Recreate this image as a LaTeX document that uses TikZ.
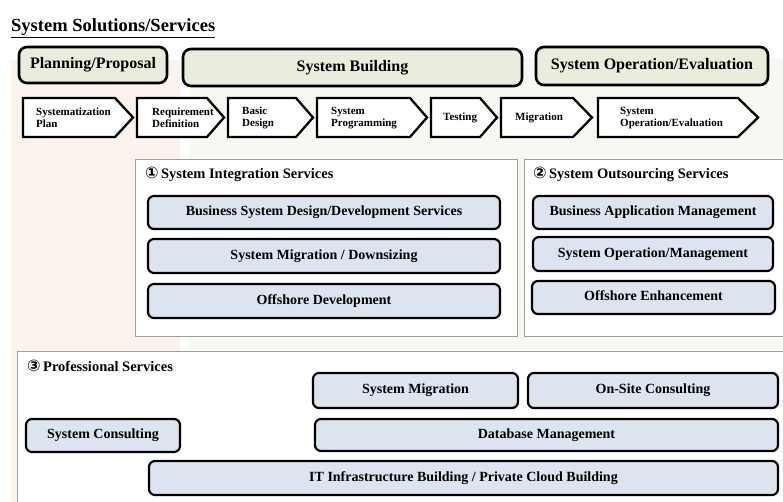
\documentclass[tikz,border=0pt]{standalone}
\usepackage{fontspec}
\setmainfont{Liberation Serif}
\newfontfamily\symfont{DejaVu Sans}

\definecolor{stagefill}{RGB}{233,237,222}
\definecolor{svcfill}{RGB}{220,228,240}
\definecolor{planbg}{RGB}{253,243,237}
\definecolor{buildbg}{RGB}{248,248,243}
\definecolor{framegray}{RGB}{160,160,160}

\newcommand{\circnum}[1]{{\symfont\fontsize{16}{16}\selectfont #1}}

\begin{document}
\begin{tikzpicture}[x=1pt,y=-1pt,
  stage/.style={draw, line width=2.6pt, rounded corners=8pt, fill=stagefill,
    text height=11pt, text depth=3.5pt,
    font=\fontsize{16}{18}\selectfont\bfseries},
  chevron/.style={draw, line width=2.3pt, fill=white, line join=miter},
  chevtext/.style={anchor=west, inner sep=0pt, align=left,
    font=\fontsize{11}{12}\selectfont\bfseries},
  frame/.style={draw=framegray, line width=0.9pt, fill=white},
  header/.style={anchor=west, inner sep=0pt, font=\fontsize{14.5}{16}\selectfont\bfseries},
  svc/.style={draw, line width=2.2pt, rounded corners=6pt, fill=svcfill,
    text height=9.5pt, text depth=3pt,
    font=\fontsize{14}{16}\selectfont\bfseries}]
\useasboundingbox (0,0) rectangle (783,502);

% shaded bands behind the stages
\fill[planbg] (11,60) rectangle (180,502);
\fill[buildbg] (190,58) rectangle (783,350);

\node[anchor=base west, inner sep=0pt, font=\fontsize{18.5}{20}\selectfont\bfseries] (title) at (11,32) {\underline{System Solutions/Services}};

% the three stages
\node[stage, minimum width=148, minimum height=36] (plan) at (93,65) {Planning/Proposal};
\node[stage, minimum width=339, minimum height=37] (build) at (352.5,67.5) {System Building};
\node[stage, minimum width=232, minimum height=38] (operate) at (652,66) {System Operation/Evaluation};

% process steps: left edge / shoulder / tip / text x / text
\foreach \xl/\xs/\xt/\tx/\txt [count=\i] in {
    23/115/133/36/{Systematization\\Plan},
    137/207/224/152/{Requirement\\Definition},
    228/296/313/242/{Basic\\Design},
    317/410/427/331/{System\\Programming},
    431/480/497/443/{Testing},
    501/573/592/515/{Migration},
    598/738/758/620/{System\\Operation/Evaluation}} {
  \draw[chevron] (\xl,98) -- (\xs,98) -- (\xt,117.5) -- (\xs,137) -- (\xl,137) -- cycle;
  \node[chevtext] (step\i) at (\tx,118) {\txt};
}

% (1) system integration
\draw[frame] (135,159) rectangle (517,336);
\node[header] (sihead) at (145,174) {\circnum{①}\,System Integration Services};
\node[svc, minimum width=352, minimum height=33] (sidesign) at (324,212.5) {Business System Design/Development Services};
\node[svc, minimum width=352, minimum height=34] (simig) at (324,256) {System Migration / Downsizing};
\node[svc, minimum width=352, minimum height=34] (sioff) at (324,301) {Offshore Development};

% (2) system outsourcing
\draw[frame] (524,159) rectangle (795,336);
\node[header] (sohead) at (533,174) {\circnum{②}\,System Outsourcing Services};
\node[svc, minimum width=240, minimum height=33] (soapp) at (653,212.5) {Business Application Management};
\node[svc, minimum width=240, minimum height=34] (soops) at (653,254) {System Operation/Management};
\node[svc, minimum width=243, minimum height=33] (sooff) at (653.5,297.5) {Offshore Enhancement};

% (3) professional services
\draw[frame] (17,351) rectangle (795,515);
\node[header] (pshead) at (27,366) {\circnum{③}\,Professional Services};
\node[svc, minimum width=205, minimum height=35] (psmig) at (415.5,390.5) {System Migration};
\node[svc, minimum width=250, minimum height=35] (psonsite) at (653,390.5) {On-Site Consulting};
\node[svc, minimum width=154, minimum height=33] (pscons) at (103,435.5) {System Consulting};
\node[svc, minimum width=463, minimum height=32] (psdb) at (546.5,435) {Database Management};
\node[svc, minimum width=629, minimum height=34] (psinfra) at (463.5,478) {IT Infrastructure Building / Private Cloud Building};
\end{tikzpicture}
\end{document}
